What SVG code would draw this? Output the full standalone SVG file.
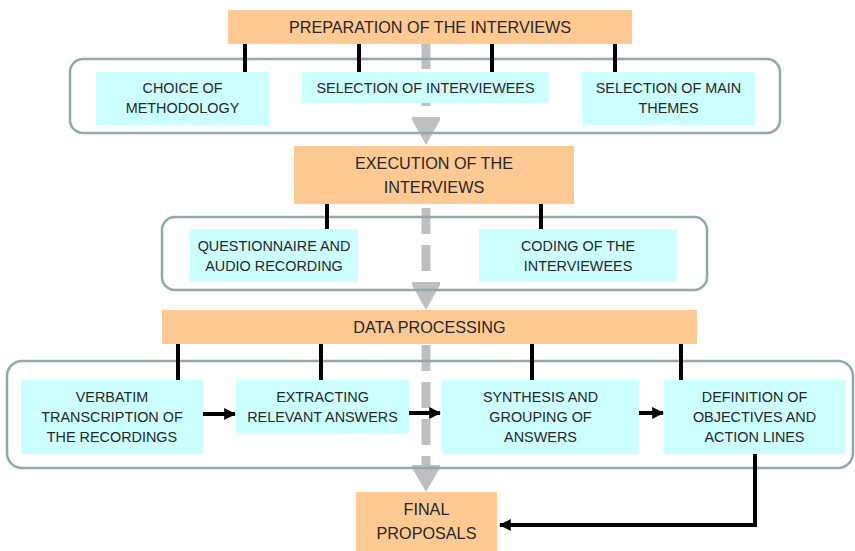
<svg xmlns="http://www.w3.org/2000/svg" width="855" height="551" viewBox="0 0 855 551">
<defs>
<style>
.or{fill:#FFC994;}
.cy{fill:#CCFFFF;}
.ct{fill:none;stroke:#8FA9AB;stroke-width:2.5;}
.t{font-family:"Liberation Sans",Arial,sans-serif;font-size:14.4px;fill:#262626;text-anchor:middle;}
.h{font-family:"Liberation Sans",Arial,sans-serif;font-size:16.2px;fill:#262626;text-anchor:middle;}
.tick{stroke:#000;stroke-width:4;}
.gs{stroke:#BFBFBF;stroke-width:9;stroke-dasharray:26 11;fill:none;}
.gh{fill:#BFBFBF;}
.bl{stroke:#000;stroke-width:4;fill:none;}
</style>
<marker id="ah" viewBox="0 0 10 10" refX="9" refY="5" markerWidth="3" markerHeight="3.2" orient="auto" markerUnits="strokeWidth">
<path d="M0,0 L10,5 L0,10 z" fill="#000"/>
</marker>
</defs>
<rect width="855" height="551" fill="#fff"/>

<g id="flow-arrows">
<line class="gs" x1="426" y1="43" x2="426" y2="117"/>
<polygon class="gh" points="412,117 440,117 440,120 426,145 412,120"/>
<line class="gs" x1="426" y1="208" x2="426" y2="282"/>
<polygon class="gh" points="412,282 440,282 440,285 426,310 412,285"/>
<line class="gs" x1="426" y1="345" x2="426" y2="465" stroke-dasharray="27 10 65 7 20"/>
<polygon class="gh" points="412,465 440,465 440,468 426,492 412,468"/>
</g>

<g id="containers">
<rect class="ct" x="7" y="361" width="846" height="107" rx="15"/>
<rect class="ct" x="70" y="59" width="710" height="74" rx="13"/>
<rect class="ct" x="162" y="217" width="545" height="73" rx="13"/>
</g>

<g id="connectors">
<line class="tick" x1="245" y1="44" x2="245" y2="72"/>
<line class="tick" x1="359" y1="44" x2="359" y2="72"/>
<line class="tick" x1="492" y1="44" x2="492" y2="72"/>
<line class="tick" x1="615" y1="44" x2="615" y2="72"/>
<line class="tick" x1="327" y1="204" x2="327" y2="229"/>
<line class="tick" x1="541" y1="204" x2="541" y2="229"/>
<line class="tick" x1="178" y1="344" x2="178" y2="380"/>
<line class="tick" x1="321" y1="344" x2="321" y2="380"/>
<line class="tick" x1="532" y1="344" x2="532" y2="380"/>
<line class="tick" x1="681" y1="344" x2="681" y2="380"/>
<line class="bl" x1="203" y1="414" x2="235" y2="414" marker-end="url(#ah)"/>
<line class="bl" x1="409" y1="413" x2="440" y2="413" marker-end="url(#ah)"/>
<line class="bl" x1="639" y1="413" x2="663" y2="413" marker-end="url(#ah)"/>
<polyline class="bl" points="755,454 755,525 500,525" marker-end="url(#ah)"/>
</g>

<g id="preparation">
<rect class="or" x="228" y="10" width="404" height="34"/>
<text class="h" x="430" y="33">PREPARATION OF THE INTERVIEWS</text>
</g>
<g id="choice-methodology">
<rect class="cy" x="96" y="72" width="173" height="53"/>
<text class="t" x="182.5" y="93">CHOICE OF</text>
<text class="t" x="182.5" y="113">METHODOLOGY</text>
</g>
<g id="selection-interviewees">
<rect class="cy" x="302" y="72" width="247" height="31"/>
<text class="t" x="425.5" y="93">SELECTION OF INTERVIEWEES</text>
</g>
<g id="selection-themes">
<rect class="cy" x="582" y="72" width="173" height="53"/>
<text class="t" x="668.5" y="93">SELECTION OF MAIN</text>
<text class="t" x="668.5" y="113">THEMES</text>
</g>

<g id="execution">
<rect class="or" x="294" y="146" width="280" height="58"/>
<text class="h" x="434" y="169">EXECUTION OF THE</text>
<text class="h" x="434" y="193">INTERVIEWS</text>
</g>
<g id="questionnaire">
<rect class="cy" x="190" y="229" width="168" height="53"/>
<text class="t" x="274" y="251">QUESTIONNAIRE AND</text>
<text class="t" x="274" y="271">AUDIO RECORDING</text>
</g>
<g id="coding">
<rect class="cy" x="479" y="229" width="198" height="53"/>
<text class="t" x="578" y="251">CODING OF THE</text>
<text class="t" x="578" y="271">INTERVIEWEES</text>
</g>

<g id="data-processing">
<rect class="or" x="162" y="310" width="535" height="34"/>
<text class="h" x="429.5" y="333">DATA PROCESSING</text>
</g>
<g id="verbatim">
<rect class="cy" x="21" y="380" width="182" height="74"/>
<text class="t" x="112" y="402">VERBATIM</text>
<text class="t" x="112" y="422">TRANSCRIPTION OF</text>
<text class="t" x="112" y="442">THE RECORDINGS</text>
</g>
<g id="extracting">
<rect class="cy" x="236" y="380" width="173" height="53"/>
<text class="t" x="322.5" y="402">EXTRACTING</text>
<text class="t" x="322.5" y="422">RELEVANT ANSWERS</text>
</g>
<g id="synthesis">
<rect class="cy" x="442" y="380" width="197" height="74"/>
<text class="t" x="540.5" y="402">SYNTHESIS AND</text>
<text class="t" x="540.5" y="422">GROUPING OF</text>
<text class="t" x="540.5" y="442">ANSWERS</text>
</g>
<g id="definition">
<rect class="cy" x="664" y="380" width="181" height="74"/>
<text class="t" x="754.5" y="402">DEFINITION OF</text>
<text class="t" x="754.5" y="422">OBJECTIVES AND</text>
<text class="t" x="754.5" y="442">ACTION LINES</text>
</g>

<g id="final-proposals">
<rect class="or" x="356" y="492" width="141" height="59"/>
<text class="h" x="426.5" y="515">FINAL</text>
<text class="h" x="426.5" y="539">PROPOSALS</text>
</g>
</svg>
